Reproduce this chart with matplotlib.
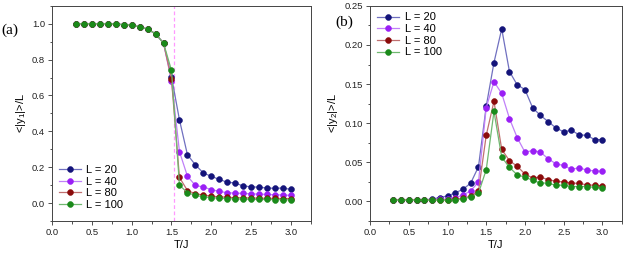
import matplotlib
matplotlib.use("Agg")
import matplotlib.pyplot as plt
from matplotlib.ticker import MultipleLocator

plt.rcParams["font.family"] = ["Liberation Sans", "DejaVu Sans"]
plt.rcParams["mathtext.default"] = "regular"

T = [0.3, 0.4, 0.5, 0.6, 0.7, 0.8, 0.9, 1.0, 1.1, 1.2, 1.3, 1.4, 1.5, 1.6,
     1.7, 1.8, 1.9, 2.0, 2.1, 2.2, 2.3, 2.4, 2.5, 2.6, 2.7, 2.8, 2.9, 3.0]
tamanhos = ["L = 20", "L = 40", "L = 80", "L = 100"]
cores = ["#14147a", "#9a1ff5", "#8b0b0b", "#1a8a1a"]
cores_linha = ["#7070c0", "#c080f8", "#c07070", "#70b870"]

# parte comum abaixo de T = 1.5
baixo = [1.0, 1.0, 1.0, 1.0, 1.0, 0.998, 0.995, 0.992, 0.983, 0.97, 0.944, 0.892]

y1_L20 = baixo + [0.705, 0.464, 0.27, 0.213, 0.168, 0.149, 0.132, 0.116, 0.112,
                  0.095, 0.091, 0.088, 0.084, 0.082, 0.084, 0.076]
y1_L40 = baixo + [0.68, 0.287, 0.15, 0.098, 0.09, 0.075, 0.065, 0.058, 0.055,
                  0.054, 0.051, 0.05, 0.048, 0.046, 0.045, 0.043]
y1_L80 = baixo + [0.69, 0.143, 0.07, 0.052, 0.045, 0.038, 0.035, 0.032, 0.03,
                  0.029, 0.028, 0.027, 0.026, 0.026, 0.025, 0.025]
y1_L100 = baixo + [0.74, 0.10, 0.058, 0.043, 0.035, 0.03, 0.027, 0.025, 0.023,
                   0.022, 0.021, 0.02, 0.02, 0.019, 0.019, 0.018]

y2_L20 = [0.002, 0.002, 0.002, 0.002, 0.002, 0.003, 0.005, 0.007, 0.011, 0.0155,
          0.0235, 0.0444, 0.1216, 0.1775, 0.2206, 0.166, 0.149, 0.143, 0.1195,
          0.110, 0.102, 0.094, 0.089, 0.091, 0.085, 0.0845, 0.079, 0.079]
y2_L40 = [0.002, 0.002, 0.002, 0.002, 0.002, 0.002, 0.003, 0.003, 0.005, 0.008,
          0.0137, 0.0248, 0.12, 0.153, 0.138, 0.106, 0.0815, 0.063, 0.065,
          0.063, 0.0546, 0.048, 0.046, 0.041, 0.043, 0.040, 0.039, 0.0384]
y2_L80 = [0.002, 0.002, 0.002, 0.002, 0.002, 0.002, 0.002, 0.002, 0.003, 0.004,
          0.007, 0.0133, 0.0845, 0.128, 0.0666, 0.052, 0.045, 0.035, 0.030,
          0.031, 0.028, 0.0256, 0.025, 0.0235, 0.023, 0.0213, 0.0205, 0.02]
y2_L100 = [0.0015, 0.0015, 0.0015, 0.0015, 0.0015, 0.0015, 0.0015, 0.0015, 0.002,
           0.003, 0.006, 0.0107, 0.0405, 0.115, 0.0567, 0.0435, 0.034, 0.031,
           0.027, 0.0235, 0.0235, 0.0205, 0.021, 0.019, 0.019, 0.019, 0.018, 0.017]

Tc = 1.53


def desenha(ax, series, ylim, major, minor, ylabel, legenda_loc, bbox):
    for y, nome, c, cl in zip(series, tamanhos, cores, cores_linha):
        ax.plot(T, y, color=cl, lw=0.9, marker="o", markersize=4.2,
                markerfacecolor=c, markeredgecolor=c, markeredgewidth=0.4,
                label=nome)
    ax.set_xlim(0, 3.25)
    ax.set_ylim(*ylim)
    ax.xaxis.set_major_locator(MultipleLocator(0.5))
    ax.xaxis.set_minor_locator(MultipleLocator(0.25))
    ax.yaxis.set_major_locator(MultipleLocator(major))
    ax.yaxis.set_minor_locator(MultipleLocator(minor))
    ax.tick_params(which="both", direction="out", labelsize=6.8, width=0.6,
                   colors="#333333", labelcolor="#222222", pad=2)
    ax.tick_params(which="major", length=3)
    ax.tick_params(which="minor", length=1.8)
    for s in ax.spines.values():
        s.set_linewidth(0.7)
        s.set_color("#444444")
    ax.set_xlabel("T/J", fontsize=8, labelpad=2)
    ax.set_ylabel(ylabel, fontsize=8, labelpad=3)
    ax.legend(loc=legenda_loc, bbox_to_anchor=bbox, frameon=False, fontsize=8,
              handlelength=2.0, handletextpad=0.5, labelspacing=0.15,
              borderaxespad=0.2)


fig = plt.figure(figsize=(6.23, 2.58), dpi=100)
ax1 = fig.add_axes([0.0835, 0.1434, 0.4155, 0.834])
ax2 = fig.add_axes([0.594, 0.1434, 0.404, 0.834])

ax1.axvline(Tc, color="#ff99ff", lw=0.9, ls=(0, (3, 2)), zorder=0)
desenha(ax1, [y1_L20, y1_L40, y1_L80, y1_L100], (-0.1, 1.1), 0.2, 0.1,
        "<|y$_1$|>/L", "lower left", (0.0, 0.02))
desenha(ax2, [y2_L20, y2_L40, y2_L80, y2_L100], (-0.025, 0.25), 0.05, 0.025,
        "<|y$_2$|>/L", "upper left", (0.0, 1.0))
ax2.yaxis.set_major_formatter(plt.FormatStrFormatter("%.2f"))

fig.text(0.002, 0.87, "(a)", fontsize=11, family="Liberation Serif")
fig.text(0.538, 0.9, "(b)", fontsize=11, family="Liberation Serif")

fig.savefig("out.png", dpi=100)
